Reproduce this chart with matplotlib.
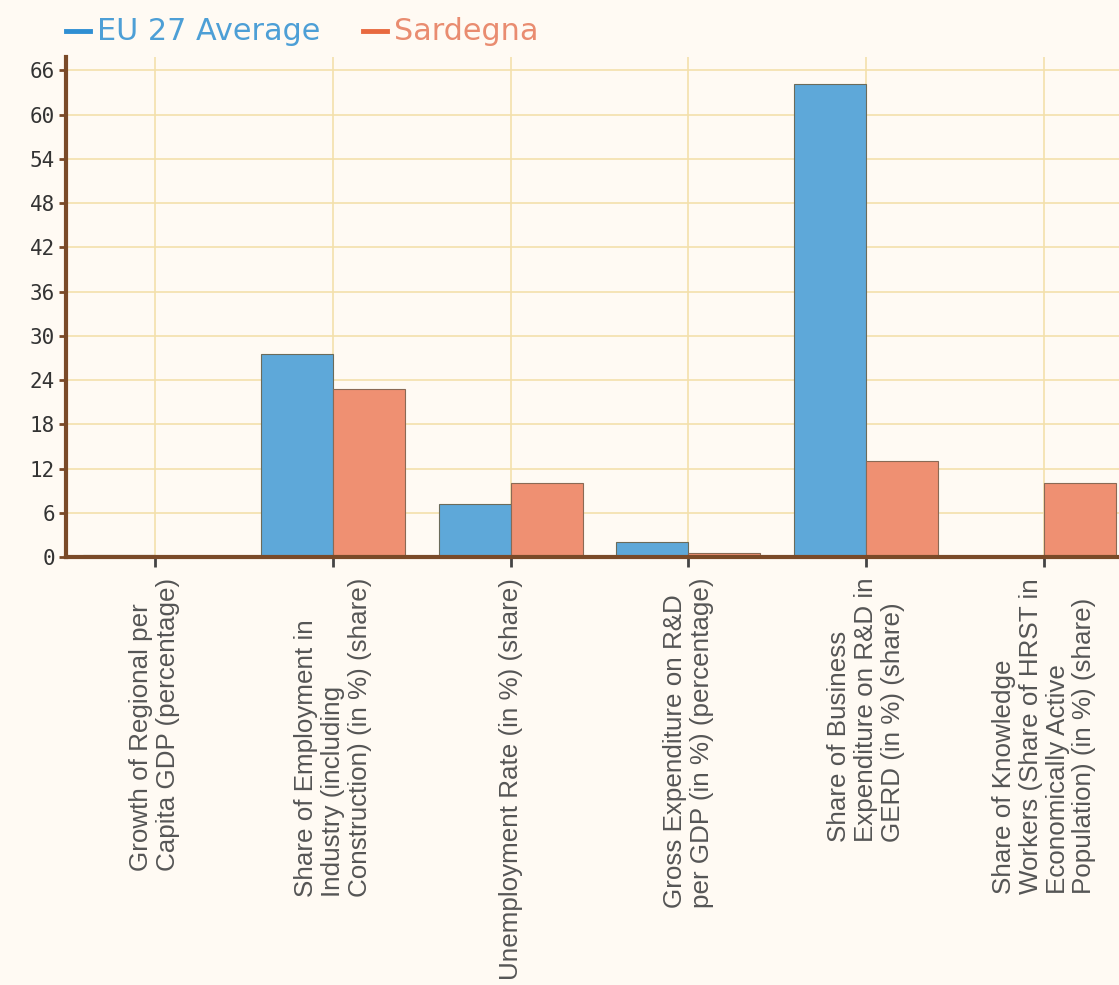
import matplotlib
matplotlib.use("Agg")
import matplotlib.pyplot as plt
import numpy as np
from matplotlib.lines import Line2D

categories = [
    "Growth of Regional per\nCapita GDP (percentage)",
    "Share of Employment in\nIndustry (including\nConstruction) (in %) (share)",
    "Unemployment Rate (in %) (share)",
    "Gross Expenditure on R&D\nper GDP (in %) (percentage)",
    "Share of Business\nExpenditure on R&D in\nGERD (in %) (share)",
    "Share of Knowledge\nWorkers (Share of HRST in\nEconomically Active\nPopulation) (in %) (share)",
]
eu27 = [0.3, 27.5, 7.2, 2.1, 64.1, 0.0]
sardegna = [0.2, 22.8, 10.1, 0.6, 13.0, 10.1]
yticks = [0, 6, 12, 18, 24, 30, 36, 42, 48, 54, 60, 66]
series_names = ["EU 27 Average", "Sardegna"]

blue = "#5ea8d9"
salmon = "#ef9072"
brown = "#7a4a28"
bg = "#fffaf3"
grid = "#f3e0ac"

W, H = 1119, 985
fig = plt.figure(figsize=(W / 100, H / 100), dpi=100, facecolor=bg)
left, right, top, bottom = 66, 1133, 57, 557
ax = fig.add_axes([left / W, 1 - bottom / H, (right - left) / W, (bottom - top) / H])
ax.set_facecolor(bg)

x = np.arange(len(categories))
w = 0.405
ax.bar(x - w / 2, eu27, width=w, color=blue, edgecolor="#6b6b5a", linewidth=0.8, zorder=3)
ax.bar(x + w / 2, sardegna, width=w, color=salmon, edgecolor="#8a6a55", linewidth=0.8, zorder=3)

ax.set_xlim(-0.5, len(categories) - 0.5)
ax.set_ylim(0, 67.8)
ax.set_yticks(yticks)
ax.set_yticklabels([str(v) for v in yticks], family="DejaVu Sans Mono", fontsize=15,
                   color="#333333")
ax.set_xticks(x)
ax.set_xticklabels(categories, rotation=90, fontsize=18.7, family="Liberation Sans",
                   color="#555555", va="top", ha="center", multialignment="left",
                   linespacing=1.15)
ax.tick_params(axis="y", length=5, width=2, color=brown, pad=3)
ax.tick_params(axis="x", length=7, width=2, color="#444444", pad=8)

ax.grid(True, color=grid, linewidth=1.2, zorder=0)
ax.set_axisbelow(True)
for s in ["top", "right"]:
    ax.spines[s].set_visible(False)
for s in ["left", "bottom"]:
    ax.spines[s].set_color(brown)
    ax.spines[s].set_linewidth(3)
    ax.spines[s].set_zorder(4)

# legend drawn as figure-level marks and text
dash_colors = ["#2f8fd3", "#e8693f"]
text_colors = ["#4d9fd6", "#e98c70"]
legend_x = [66, 363]
for name, dc, tc, lx in zip(series_names, dash_colors, text_colors, legend_x):
    fig.add_artist(Line2D([lx / W, (lx + 24) / W], [1 - 31 / H, 1 - 31 / H],
                          color=dc, lw=3.5, transform=fig.transFigure))
    fig.text((lx + 31) / W, 1 - 31 / H, name, color=tc, fontsize=21.8,
             family="DejaVu Sans", va="center", ha="left")

fig.savefig("out.png", dpi=100, facecolor=bg)
